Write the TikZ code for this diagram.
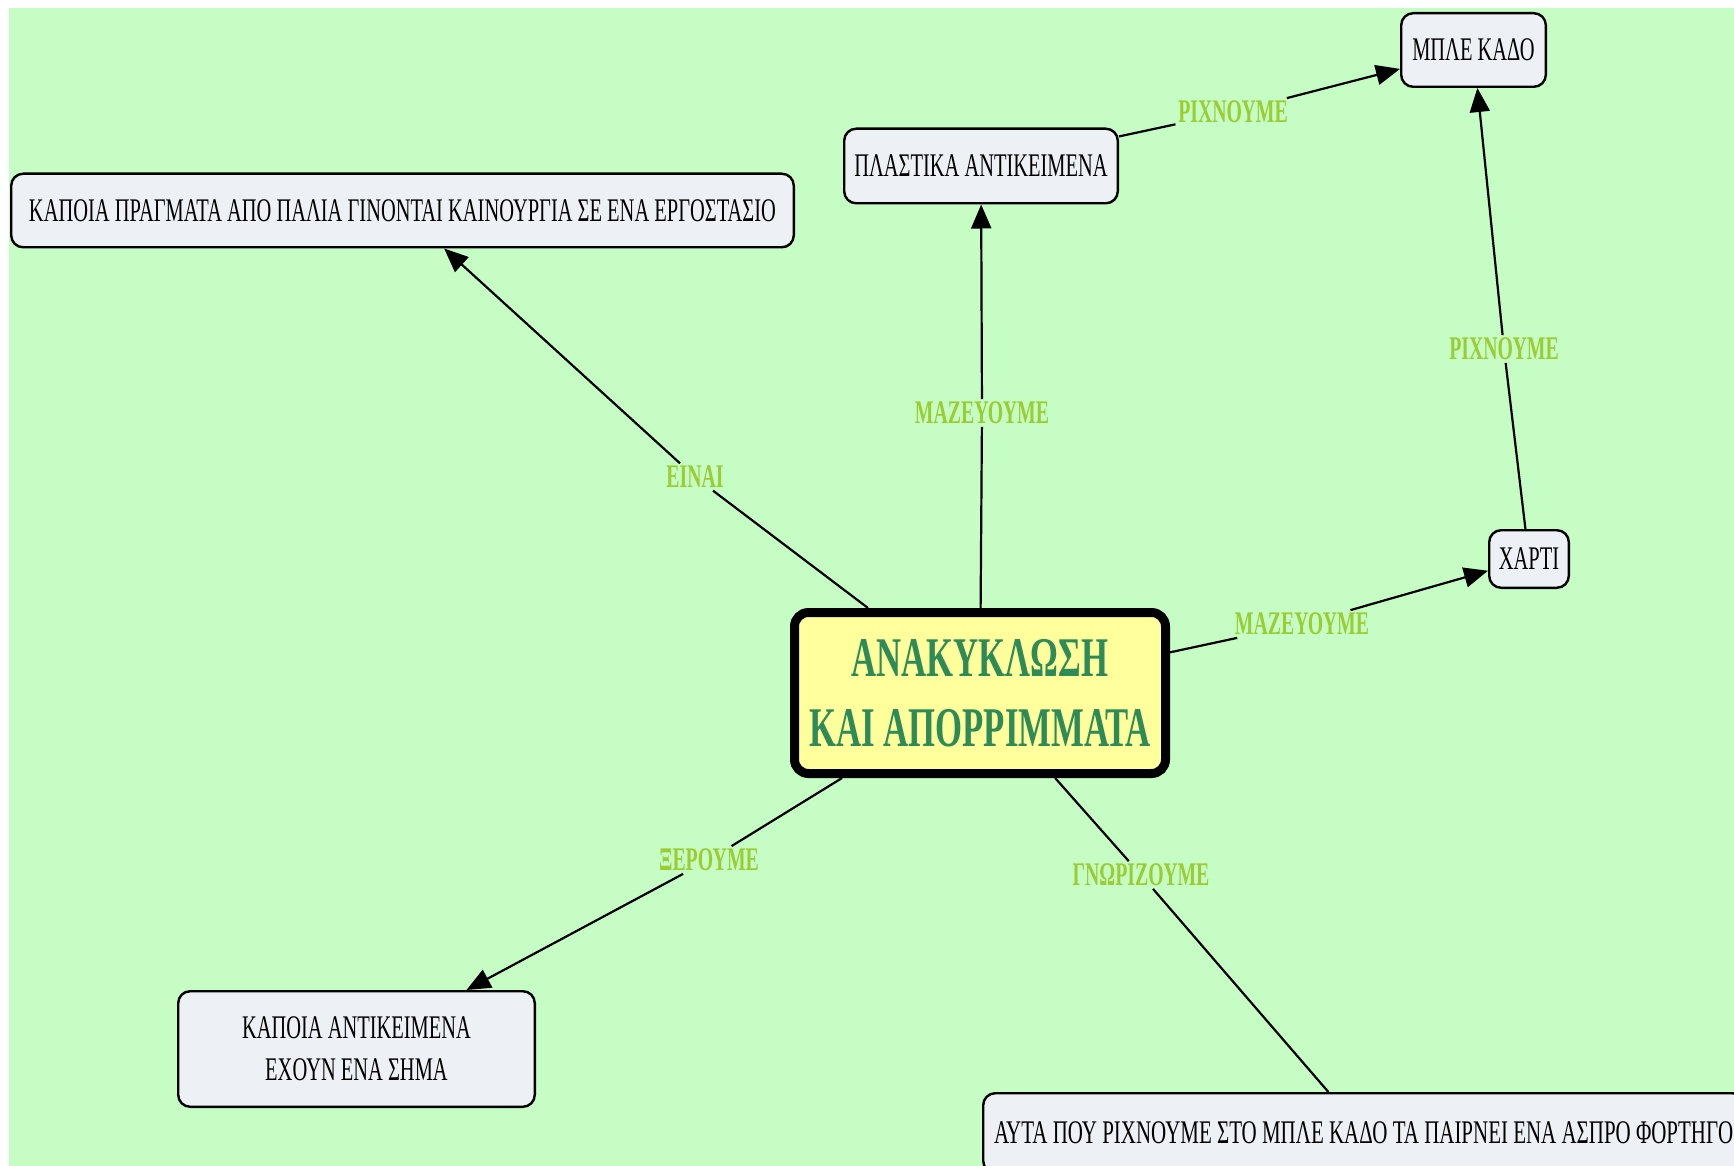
\documentclass[tikz,border=0pt]{standalone}
\usepackage{fontspec}
\usepackage{graphicx}
\setmainfont{Liberation Serif}[FakeStretch=0.62]
\newfontfamily\lblfont{Liberation Serif}[FakeStretch=0.6]
\newfontfamily\ctrfont{Liberation Serif}[FakeStretch=0.62]
\usetikzlibrary{arrows.meta}
\definecolor{bggreen}{HTML}{C5FDC5}
\definecolor{boxfill}{HTML}{EDF1F5}
\definecolor{ctrfill}{HTML}{FFFF9C}
\definecolor{ctrtext}{HTML}{2E8B57}
\definecolor{lbltext}{HTML}{9ACD32}
\tikzset{
  concept/.style={draw=black, line width=1.2pt, fill=boxfill, rounded corners=6pt,
    inner xsep=2pt, inner ysep=2pt, font=\fontsize{16.5}{21}\selectfont, text=black},
  mainconcept/.style={draw=black, line width=4.5pt, fill=ctrfill, rounded corners=7pt,
    minimum width=185.5pt, minimum height=80.5pt, align=center, text=ctrtext,
    font=\ctrfont\bfseries\fontsize{28}{35}\selectfont},
  linklabel/.style={inner sep=1.2pt, text=lbltext, font=\lblfont\bfseries\fontsize{16.5}{20}\selectfont},
  conn/.style={draw=black, line width=1.1pt},
  connarrow/.style={conn, -{Triangle[length=12pt,width=10pt]}}
}
\begin{document}
\begin{tikzpicture}[x=0.5pt,y=-0.5pt]
\clip (0,0) rectangle (1734,1166);
\fill[white] (0,0) rectangle (1734,1166);
\fill[bggreen] (9,8) rectangle (1734,1166);

% concepts
\node[mainconcept] (c) at (980,693) {ΑΝΑΚΥΚΛΩΣΗ\\ΚΑΙ ΑΠΟΡΡΙΜΜΑΤΑ};
\node[concept, minimum width=391.3pt, minimum height=36.8pt] (n1) at (402.5,210.5)
  {ΚΑΠΟΙΑ ΠΡΑΓΜΑΤΑ ΑΠΟ ΠΑΛΙΑ ΓΙΝΟΝΤΑΙ ΚΑΙΝΟΥΡΓΙΑ ΣΕ ΕΝΑ ΕΡΓΟΣΤΑΣΙΟ};
\node[concept, minimum width=136.8pt, minimum height=37.3pt] (n2) at (981,166)
  {ΠΛΑΣΤΙΚΑ ΑΝΤΙΚΕΙΜΕΝΑ};
\node[concept, minimum width=72.3pt, minimum height=36.8pt] (n3) at (1473.5,50)
  {ΜΠΛΕ ΚΑΔΟ};
\node[concept, minimum width=39.8pt, minimum height=28.8pt] (n4) at (1529,559)
  {ΧΑΡΤΙ};
\node[concept, minimum width=178.3pt, minimum height=57.8pt, align=center] (n6) at (356.5,1049)
  {ΚΑΠΟΙΑ ΑΝΤΙΚΕΙΜΕΝΑ\\ΕΧΟΥΝ ΕΝΑ ΣΗΜΑ};
\node[concept, anchor=west, minimum height=39.8pt, inner xsep=5.5pt] (n7) at (982,1133)
  {\scalebox{1.024}[1]{ΑΥΤΑ ΠΟΥ ΡΙΧΝΟΥΜΕ ΣΤΟ ΜΠΛΕ ΚΑΔΟ ΤΑ ΠΑΙΡΝΕΙ ΕΝΑ ΑΣΠΡΟ ΦΟΡΤΗΓΟ}\hspace{12pt}};

% link labels
\node[linklabel] (l1) at (695,477) {ΕΙΝΑΙ};
\node[linklabel] (l2) at (982,413) {ΜΑΖΕΥΟΥΜΕ};
\node[linklabel] (l3) at (1233,112) {ΡΙΧΝΟΥΜΕ};
\node[linklabel] (l4) at (1504,349) {ΡΙΧΝΟΥΜΕ};
\node[linklabel] (l5) at (1302,624) {ΜΑΖΕΥΟΥΜΕ};
\node[linklabel] (l6) at (709,860) {ΞΕΡΟΥΜΕ};
\node[linklabel] (l7) at (1141,875) {ΓΝΩΡΙΖΟΥΜΕ};

% connectors
\draw[conn] (c) -- (l1); \draw[connarrow] (l1) -- (n1);
\draw[conn] (c) -- (l2); \draw[connarrow] (l2) -- (n2);
\draw[conn] (n2) -- (l3); \draw[connarrow] (l3) -- (n3);
\draw[conn] (n4) -- (l4); \draw[connarrow] (l4) -- (n3);
\draw[conn] (c) -- (l5); \draw[connarrow] (l5) -- (n4);
\draw[conn] (c) -- (l6); \draw[connarrow] (l6) -- (n6);
\draw[conn] (c) -- (l7); \draw[conn] (l7) -- (n7);
\end{tikzpicture}
\end{document}
